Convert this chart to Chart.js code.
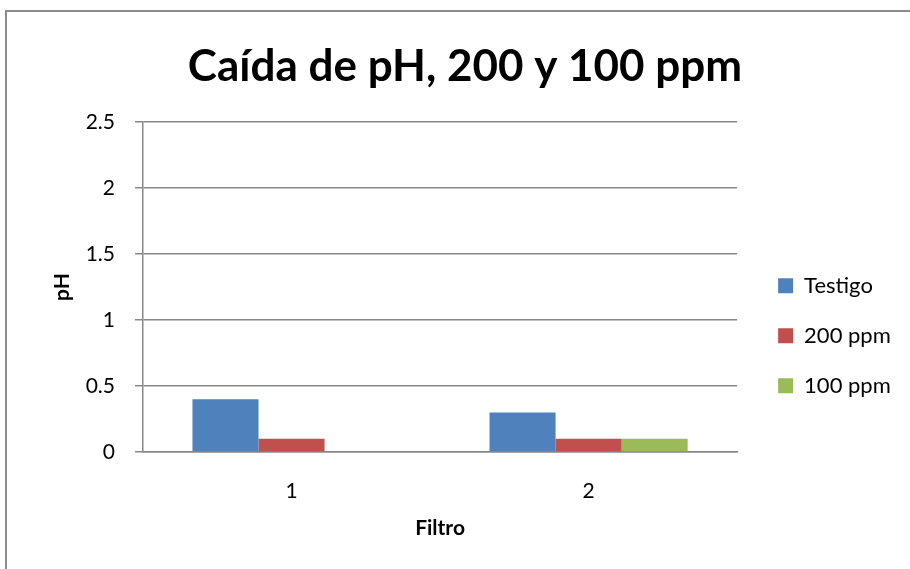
<!DOCTYPE html>
<html>
<head>
<meta charset="utf-8">
<script src="https://cdn.jsdelivr.net/npm/chart.js@4/dist/chart.umd.min.js"></script>
<style>
  html, body { margin: 0; padding: 0; background: #fff; overflow: hidden; }
  #marco { position: absolute; left: 5px; top: 10px; width: 1000px; height: 1000px; border: 2px solid #8c8c8c; }
  #wrap { position: absolute; left: 0; top: 0; width: 910px; height: 569px; }
</style>
</head>
<body>
<div id="marco"></div>
<div id="wrap"><canvas id="grafico"></canvas></div>
<script>
// datos
const filtros = ['1', '2']
const testigo = [0.4, 0.3]
const ppm200 = [0.1, 0.1]
const ppm100 = [null, 0.1]
const etiquetasY = ['0', '0.5', '1', '1.5', '2', '2.5']
const series = ['Testigo', '200 ppm', '100 ppm']

const fuente = 'Lato, "Open Sans", sans-serif'
const gris = '#888888'
const tamLeyenda = 22

const ctx = document.getElementById('grafico').getContext('2d')

// medimos la leyenda para que el area del grafico termine en x=737
ctx.font = tamLeyenda + 'px ' + fuente
const anchoTexto = Math.max(...series.map(t => ctx.measureText(t).width))
const anchoLeyenda = 30 + 15 + tamLeyenda / 2 + anchoTexto
const padDer = 910 - 750 - anchoLeyenda
const padIzq = padDer + 20

new Chart(ctx, {
  type: 'bar',
  data: {
    labels: filtros,
    datasets: [
      { label: series[0], data: testigo, backgroundColor: '#4F81BD' },
      { label: series[1], data: ppm200, backgroundColor: '#C0504D' },
      { label: series[2], data: ppm100, backgroundColor: '#9BBB59' }
    ]
  },
  options: {
    responsive: true,
    maintainAspectRatio: false,
    animation: false,
    layout: { padding: { left: padIzq, right: padDer, top: 0, bottom: 0 } },
    datasets: { bar: { categoryPercentage: 0.667, barPercentage: 1 } },
    scales: {
      x: {
        grid: { display: false, drawTicks: false },
        border: { display: true, color: gris, width: 1.5 },
        ticks: { color: '#000', font: { family: fuente, size: 21 }, padding: 27 },
        title: { display: true, text: 'Filtro', color: '#000', font: { family: fuente, size: 21, weight: 'bold' }, padding: { top: 0, bottom: 28 } },
        afterFit: s => { s.height = 117 }
      },
      y: {
        min: 0,
        max: 2.5,
        ticks: {
          stepSize: 0.5,
          color: '#000',
          font: { family: fuente, size: 21 },
          padding: 20,
          callback: (v, i) => etiquetasY[i]
        },
        grid: { color: gris, lineWidth: 1.5, tickLength: 8 },
        border: { display: true, color: gris, width: 1.5 },
        title: { display: true, text: 'pH', color: '#000', font: { family: fuente, size: 21, weight: 'bold' }, padding: { top: Math.max(0, 62 - 12.6 - padIzq), bottom: 0 } },
        afterFit: s => { s.width = 143 - padIzq }
      },
      // eje vacio a la derecha, solo deja hueco antes de la leyenda
      hueco: {
        position: 'right',
        display: true,
        grid: { display: false },
        border: { display: false },
        ticks: { display: false },
        afterFit: s => { s.width = 13 }
      }
    },
    plugins: {
      title: {
        display: true,
        text: 'Caída de pH, 200 y 100 ppm',
        color: '#000',
        font: { family: fuente, size: 44, weight: 'bold' },
        padding: { top: 40, bottom: 29.2 }
      },
      legend: {
        position: 'right',
        title: { display: true, text: '', padding: { top: 88, bottom: 0 } },
        labels: { boxWidth: 15, boxHeight: 15, padding: 28, color: '#000', font: { family: fuente, size: tamLeyenda } }
      },
      tooltip: { enabled: false }
    }
  }
})
</script>
</body>
</html>
